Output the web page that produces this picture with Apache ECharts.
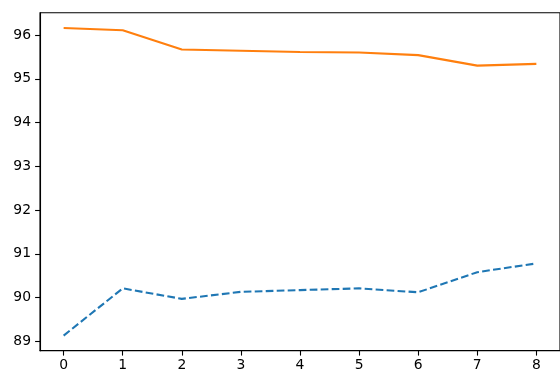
<!DOCTYPE html>
<html>
<head>
<meta charset="utf-8">
<script src="https://cdn.jsdelivr.net/npm/echarts@6/dist/echarts.min.js"></script>
<style>html,body{margin:0;padding:0;background:#fff;}#c{width:560px;height:374px;}</style>
</head>
<body>
<div id="c"></div>
<script>
const xValues = [0, 1, 2, 3, 4, 5, 6, 7, 8];
const seriesDashed = [89.13, 90.21, 89.97, 90.13, 90.17, 90.21, 90.12, 90.58, 90.78];
const seriesSolid = [96.16, 96.107, 95.67, 95.64, 95.61, 95.60, 95.54, 95.30, 95.34];
const xTicks = [0, 1, 2, 3, 4, 5, 6, 7, 8];
const yTicks = [89, 90, 91, 92, 93, 94, 95, 96];

const chart = echarts.init(document.getElementById('c'), null, {renderer: 'canvas'});
const font = {fontFamily: 'DejaVu Sans', fontSize: 13.9, color: '#000'};
chart.setOption({
  animation: false,
  grid: {left: 40, top: 12.7, width: 521, height: 338, show: true, borderColor: '#000', borderWidth: 1.1, containLabel: false},
  xAxis: {
    type: 'value', min: -0.4, max: 8.4,
    axisLine: {show: true, onZero: false, lineStyle: {color: '#000', width: 1.1}},
    axisTick: {show: true, length: 4.9, customValues: xTicks, lineStyle: {color: '#000', width: 1.1}},
    axisLabel: Object.assign({customValues: xTicks, margin: 8}, font),
    splitLine: {show: false}
  },
  yAxis: {
    type: 'value', min: 88.785, max: 96.51,
    axisLine: {show: true, onZero: false, lineStyle: {color: '#000', width: 1.1}},
    axisTick: {show: true, length: 4.9, customValues: yTicks, lineStyle: {color: '#000', width: 1.1}},
    axisLabel: Object.assign({customValues: yTicks, margin: 9}, font),
    splitLine: {show: false}
  },
  series: [
    {type: 'line', data: xValues.map((x, i) => [x, seriesDashed[i]]), showSymbol: false,
     lineStyle: {color: '#1f77b4', width: 2.08, type: [7.7, 3.3]}},
    {type: 'line', data: xValues.map((x, i) => [x, seriesSolid[i]]), showSymbol: false,
     lineStyle: {color: '#ff7f0e', width: 2.08}}
  ]
});
</script>
</body>
</html>
